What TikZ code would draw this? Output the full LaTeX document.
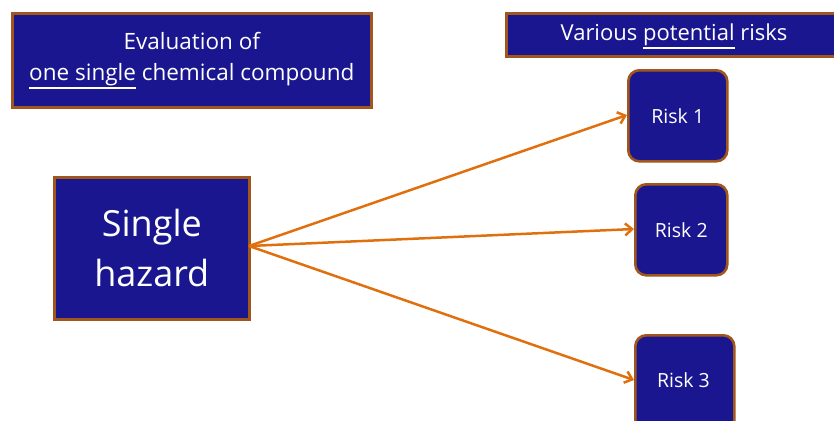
\documentclass[tikz,border=0pt]{standalone}
\usepackage{fontspec}
\setmainfont{Open Sans}
\usetikzlibrary{arrows.meta}
\definecolor{boxblue}{HTML}{1A1690}
\definecolor{boxedge}{HTML}{A0561C}
\definecolor{arrowc}{HTML}{E0700E}
\newcommand\thickul[1]{\vtop{\hbox{#1}\kern1.2pt\hrule height 1.7pt}}
\begin{document}
\begin{tikzpicture}[x=1pt,y=-1pt,
  bluebox/.style={draw=boxedge,fill=boxblue,line width=2.6pt,text=white,inner sep=0pt},
  riskbox/.style={bluebox,rounded corners=11pt},
  conn/.style={draw=arrowc,line width=2.5pt,-{Straight Barb[length=7pt,width=12pt,line width=2.5pt]}}]
\useasboundingbox (0,0) rectangle (834,420);
\begin{scope}
\clip (0,0) rectangle (834,420);
\node[bluebox,minimum width=359pt,minimum height=94pt,anchor=north west,align=center,font=\fontsize{22.5}{31}\selectfont] (eval) at (11,12) {Evaluation of\\\thickul{one single} chemical compound};
\node[bluebox,minimum width=340pt,minimum height=43pt,anchor=north west] (various) at (505,12) {};
\node[text=white,font=\fontsize{22}{24}\selectfont,anchor=base] (varioustxt) at (674,41) {Various \thickul{potential} risks};
\node[bluebox,minimum width=195pt,minimum height=142pt,anchor=north west,align=center,font=\fontsize{36}{50}\selectfont] (hazard) at (53,176) {Single\\hazard};
\node[riskbox,minimum width=99pt,minimum height=91pt,anchor=north west,font=\fontsize{19.5}{22}\selectfont] (r1) at (627,69) {Risk 1};
\node[riskbox,minimum width=92pt,minimum height=91pt,anchor=north west,font=\fontsize{19.5}{22}\selectfont] (r2) at (634,183) {Risk 2};
\node[riskbox,minimum width=99pt,minimum height=100pt,anchor=north west] (r3) at (634,334) {};
\node[text=white,font=\fontsize{19.5}{22}\selectfont] (r3txt) at (683.5,380) {Risk 3};
\coordinate (src) at (249,246);
\draw[conn] (src) -- (r1.west |- 0,115);
\draw[conn] (src) -- (r2.west |- 0,229);
\draw[conn] (src) -- (r3.west |- 0,380);
\end{scope}
\end{tikzpicture}
\end{document}
